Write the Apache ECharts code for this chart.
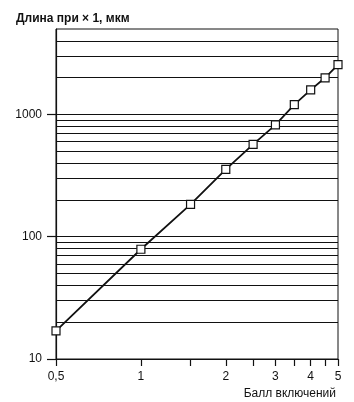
<!DOCTYPE html>
<html><head><meta charset="utf-8">
<script src="https://cdn.jsdelivr.net/npm/echarts@6/dist/echarts.min.js"></script>
<style>html,body{margin:0;padding:0;background:#fff}#c{width:354px;height:402px}</style>
</head><body><div id="c"></div>
<script>
const xValues = [0.5, 1, 1.5, 2, 2.5, 3, 3.5, 4, 4.5, 5];
const lengths = [17, 79, 184, 356, 569, 822, 1202, 1588, 1995, 2553];
const xTickValues = [0.5, 1, 1.5, 2, 2.5, 3, 3.5, 4, 4.5, 5];
const xLabelValues = [0.5, 1, 2, 3, 4, 5];
const yLabelValues = [10, 100, 1000];
const yGridValues = [20, 30, 40, 50, 60, 70, 80, 90, 100, 200, 300, 400, 500, 600, 700, 800, 900, 1000, 2000, 3000, 4000];
const yTitle = 'Длина при × 1, мкм';
const xTitle = 'Балл включений';

const font = 'Liberation Sans, Arial, sans-serif';
const chart = echarts.init(document.getElementById('c'), null, {renderer: 'canvas'});
chart.setOption({
  animation: false,
  title: [
    {text: yTitle, left: 11, top: 8, textStyle: {fontFamily: font, fontSize: 12, fontWeight: 'bold', color: '#111'}},
    {text: xTitle, right: 13, top: 383, textStyle: {fontFamily: font, fontSize: 12, fontWeight: 'normal', color: '#111'}}
  ],
  grid: {left: 56, right: 16, top: 29, bottom: 43, show: true, borderColor: '#111', borderWidth: 1},
  xAxis: {
    type: 'log', logBase: 10, min: 0.5, max: 5,
    axisLine: {show: true, lineStyle: {color: '#111', width: 1.2}},
    axisTick: {show: true, length: 7, inside: false, customValues: xTickValues, lineStyle: {color: '#111', width: 1.2}},
    axisLabel: {customValues: xLabelValues, margin: 12, fontFamily: font, fontSize: 12, color: '#111',
      formatter: v => String(v).replace('.', ',')},
    splitLine: {show: false}, minorTick: {show: false}
  },
  yAxis: {
    type: 'log', logBase: 10, min: 10, max: 5000,
    axisLine: {show: true, lineStyle: {color: '#111', width: 1.2}},
    axisTick: {show: true, length: 9, customValues: yLabelValues, lineStyle: {color: '#111', width: 1.2}},
    axisLabel: {customValues: yLabelValues, margin: 14, fontFamily: font, fontSize: 12, color: '#111',
      formatter: v => String(Math.round(v))},
    splitLine: {show: false}, minorTick: {show: false}
  },
  series: [{
    type: 'line',
    data: xValues.map((x, i) => [x, lengths[i]]),
    symbol: 'rect', symbolSize: 8,
    lineStyle: {color: '#111', width: 1.8},
    itemStyle: {color: '#fff', borderColor: '#111', borderWidth: 1.2},
    z: 5,
    markLine: {
      silent: true, symbol: 'none', animation: false,
      label: {show: false},
      lineStyle: {color: '#111', width: 1, type: 'solid'},
      data: yGridValues.map(v => ({yAxis: v}))
    }
  }]
});
</script></body></html>
